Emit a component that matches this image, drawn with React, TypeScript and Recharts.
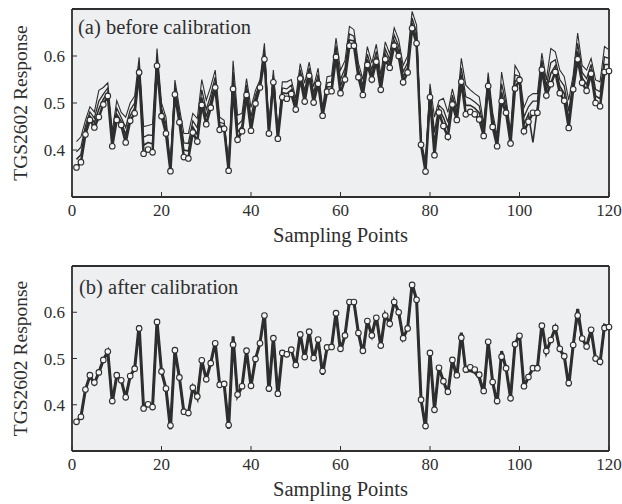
import React from 'react';
import { LineChart, Line, XAxis, YAxis, CartesianGrid } from 'recharts';

const FONT = '"Liberation Serif", "Times New Roman", serif';
const INK = '#2e2e2e';
const BG = '#eeeff1';

const samplingPoints = Array.from({ length: 120 }, (_, i) => i + 1);

// reference sensor (circles)
const referenceSensor = [
  0.363, 0.374, 0.433, 0.464, 0.448, 0.47, 0.497, 0.515, 0.408, 0.464,
  0.453, 0.416, 0.462, 0.478, 0.565, 0.392, 0.401, 0.395, 0.579, 0.472,
  0.435, 0.355, 0.518, 0.459, 0.385, 0.382, 0.437, 0.418, 0.496, 0.455,
  0.49, 0.533, 0.443, 0.445, 0.356, 0.53, 0.422, 0.44, 0.517, 0.441,
  0.499, 0.533, 0.593, 0.435, 0.544, 0.424, 0.512, 0.509, 0.519, 0.486,
  0.552, 0.503, 0.558, 0.501, 0.541, 0.473, 0.524, 0.525, 0.598, 0.521,
  0.55, 0.622, 0.622, 0.555, 0.517, 0.581, 0.55, 0.588, 0.528, 0.593,
  0.575, 0.622, 0.6, 0.544, 0.565, 0.659, 0.627, 0.411, 0.354, 0.512,
  0.389, 0.48, 0.451, 0.428, 0.497, 0.464, 0.545, 0.476, 0.481, 0.476,
  0.465, 0.43, 0.536, 0.449, 0.408, 0.504, 0.479, 0.414, 0.531, 0.549,
  0.44, 0.46, 0.479, 0.479, 0.571, 0.516, 0.54, 0.566, 0.521, 0.505,
  0.447, 0.529, 0.593, 0.543, 0.526, 0.562, 0.5, 0.493, 0.566, 0.568,
];

// other sensors before calibration
const sensor1Before = [
  0.418, 0.428, 0.463, 0.492, 0.481, 0.527, 0.533, 0.543, 0.44, 0.505,
  0.48, 0.47, 0.5, 0.515, 0.597, 0.45, 0.452, 0.455, 0.616, 0.5,
  0.47, 0.37, 0.549, 0.49, 0.435, 0.435, 0.478, 0.467, 0.55, 0.506,
  0.535, 0.57, 0.47, 0.463, 0.37, 0.59, 0.474, 0.478, 0.552, 0.49,
  0.527, 0.549, 0.627, 0.45, 0.57, 0.44, 0.545, 0.545, 0.55, 0.51,
  0.584, 0.542, 0.587, 0.535, 0.574, 0.49, 0.556, 0.558, 0.638, 0.57,
  0.59, 0.663, 0.656, 0.585, 0.55, 0.62, 0.585, 0.625, 0.56, 0.63,
  0.605, 0.66, 0.635, 0.58, 0.6, 0.695, 0.666, 0.42, 0.377, 0.541,
  0.47, 0.505, 0.51, 0.48, 0.53, 0.49, 0.595, 0.538, 0.528, 0.52,
  0.513, 0.456, 0.565, 0.48, 0.43, 0.566, 0.51, 0.44, 0.58, 0.563,
  0.49, 0.513, 0.52, 0.52, 0.606, 0.549, 0.616, 0.609, 0.57, 0.556,
  0.506, 0.56, 0.649, 0.58, 0.57, 0.595, 0.549, 0.545, 0.62, 0.613,
];

const sensor2Before = [
  0.396, 0.406, 0.451, 0.481, 0.468, 0.504, 0.519, 0.532, 0.427, 0.489,
  0.469, 0.448, 0.485, 0.5, 0.584, 0.427, 0.432, 0.431, 0.601, 0.489,
  0.456, 0.364, 0.537, 0.478, 0.415, 0.414, 0.462, 0.447, 0.528, 0.486,
  0.517, 0.555, 0.459, 0.456, 0.364, 0.566, 0.453, 0.463, 0.538, 0.47,
  0.516, 0.543, 0.613, 0.444, 0.56, 0.434, 0.532, 0.53, 0.538, 0.5,
  0.571, 0.526, 0.575, 0.521, 0.561, 0.483, 0.543, 0.545, 0.622, 0.55,
  0.574, 0.647, 0.642, 0.573, 0.537, 0.604, 0.571, 0.61, 0.547, 0.615,
  0.593, 0.645, 0.621, 0.566, 0.586, 0.681, 0.65, 0.415, 0.368, 0.529,
  0.437, 0.495, 0.486, 0.459, 0.517, 0.48, 0.575, 0.513, 0.509, 0.502,
  0.494, 0.446, 0.553, 0.468, 0.421, 0.541, 0.498, 0.43, 0.56, 0.557,
  0.47, 0.492, 0.504, 0.504, 0.592, 0.536, 0.586, 0.592, 0.55, 0.536,
  0.482, 0.548, 0.627, 0.565, 0.552, 0.582, 0.529, 0.524, 0.598, 0.595,
];

const sensor3Before = [
  0.38, 0.39, 0.442, 0.472, 0.458, 0.487, 0.508, 0.523, 0.418, 0.476,
  0.461, 0.432, 0.473, 0.489, 0.575, 0.41, 0.416, 0.413, 0.59, 0.48,
  0.446, 0.36, 0.527, 0.468, 0.4, 0.398, 0.449, 0.433, 0.512, 0.47,
  0.504, 0.544, 0.451, 0.45, 0.36, 0.548, 0.438, 0.451, 0.528, 0.456,
  0.507, 0.538, 0.603, 0.44, 0.552, 0.429, 0.522, 0.52, 0.528, 0.493,
  0.562, 0.515, 0.567, 0.511, 0.551, 0.478, 0.534, 0.535, 0.61, 0.536,
  0.562, 0.634, 0.632, 0.564, 0.527, 0.593, 0.56, 0.599, 0.538, 0.604,
  0.584, 0.633, 0.61, 0.555, 0.575, 0.67, 0.639, 0.413, 0.361, 0.521,
  0.413, 0.487, 0.469, 0.444, 0.507, 0.472, 0.56, 0.495, 0.495, 0.489,
  0.479, 0.438, 0.545, 0.458, 0.415, 0.523, 0.488, 0.422, 0.546, 0.553,
  0.455, 0.476, 0.416, 0.49, 0.581, 0.526, 0.563, 0.579, 0.536, 0.52,
  0.465, 0.538, 0.61, 0.554, 0.539, 0.572, 0.515, 0.509, 0.582, 0.582,
];

// calibrated sensors (overlapping)
const sensorsAfter = [
  0.363, 0.374, 0.433, 0.462, 0.446, 0.47, 0.497, 0.515, 0.405, 0.462,
  0.453, 0.415, 0.462, 0.478, 0.572, 0.392, 0.401, 0.395, 0.58, 0.472,
  0.435, 0.347, 0.518, 0.459, 0.384, 0.381, 0.437, 0.415, 0.496, 0.455,
  0.49, 0.535, 0.443, 0.445, 0.348, 0.548, 0.42, 0.44, 0.517, 0.44,
  0.499, 0.533, 0.598, 0.428, 0.546, 0.418, 0.512, 0.509, 0.519, 0.482,
  0.554, 0.498, 0.558, 0.496, 0.541, 0.465, 0.524, 0.525, 0.6, 0.515,
  0.55, 0.624, 0.622, 0.555, 0.51, 0.581, 0.55, 0.592, 0.526, 0.595,
  0.575, 0.624, 0.6, 0.544, 0.565, 0.662, 0.627, 0.411, 0.35, 0.512,
  0.389, 0.48, 0.451, 0.425, 0.497, 0.46, 0.556, 0.472, 0.474, 0.47,
  0.458, 0.425, 0.536, 0.449, 0.402, 0.516, 0.479, 0.414, 0.531, 0.553,
  0.438, 0.46, 0.479, 0.479, 0.575, 0.514, 0.54, 0.566, 0.519, 0.505,
  0.44, 0.529, 0.607, 0.543, 0.526, 0.562, 0.498, 0.49, 0.572, 0.568,
];

const xTicks = [0, 20, 40, 60, 80, 100, 120];
const yTicks = [0.4, 0.5, 0.6];

const rows = samplingPoints.map((x, i) => ({
  x,
  ref: referenceSensor[i],
  s1: sensor1Before[i],
  s2: sensor2Before[i],
  s3: sensor3Before[i],
  after: sensorsAfter[i],
}));

const axisLineStyle = { stroke: INK, strokeWidth: 1.8 };
const tickLineStyle = { stroke: INK, strokeWidth: 1 };
const tickText = { fill: INK, fontSize: 17, fontFamily: FONT };

const yLabel = (p: any) => {
  const vb = p.viewBox || { x: 0, y: 0, width: 72, height: 188 };
  const cx = vb.x + 27;
  const cy = vb.y + vb.height / 2;
  return (
    <text
      x={cx}
      y={cy}
      transform={`rotate(-90 ${cx} ${cy})`}
      textAnchor="middle"
      fill={INK}
      fontSize={19.5}
      fontFamily={FONT}
    >
      TGS2602 Response
    </text>
  );
};

function Panel({
  top,
  height,
  marginTop,
  title,
  titleTop,
  titleLeft,
  before,
}: {
  top: number;
  height: number;
  marginTop: number;
  title: string;
  titleTop: number;
  titleLeft: number;
  before: boolean;
}) {
  return (
    <div style={{ position: 'absolute', left: 0, top, width: 622, height }}>
      <LineChart
        width={622}
        height={height}
        data={rows}
        margin={{ top: marginTop - 1, right: 12, bottom: 3, left: 0 }}
      >
        <CartesianGrid xAxisId="b" yAxisId="l" fill={BG} stroke="none" horizontal={false} vertical={false} />
        <XAxis
          xAxisId="b"
          dataKey="x"
          type="number"
          domain={[0, 120]}
          ticks={xTicks}
          height={50}
          tickSize={-5}
          tickMargin={12}
          axisLine={axisLineStyle}
          tickLine={tickLineStyle}
          tick={tickText}
          interval={0}
          label={{ value: 'Sampling Points', position: 'insideBottom', offset: 5, fill: INK, fontSize: 20.5, fontFamily: FONT }}
        />
        <XAxis
          xAxisId="t"
          orientation="top"
          dataKey="x"
          type="number"
          domain={[0, 120]}
          ticks={xTicks}
          height={1}
          tickSize={-5}
          axisLine={axisLineStyle}
          tickLine={tickLineStyle}
          tick={false}
          interval={0}
        />
        <YAxis
          yAxisId="l"
          type="number"
          domain={[0.3, 0.7]}
          ticks={yTicks}
          width={72}
          tickSize={-5}
          tickMargin={12}
          axisLine={axisLineStyle}
          tickLine={tickLineStyle}
          tick={tickText}
          interval={0}
          tickFormatter={(v: number) => v.toFixed(1)}
          label={{ content: yLabel }}
        />
        <YAxis
          yAxisId="r"
          orientation="right"
          type="number"
          domain={[0.3, 0.7]}
          ticks={yTicks}
          width={1}
          tickSize={-5}
          axisLine={axisLineStyle}
          tickLine={tickLineStyle}
          tick={false}
          interval={0}
        />
        {before && (
          <Line xAxisId="b" yAxisId="l" dataKey="s1" stroke={INK} strokeWidth={1.1} dot={false} isAnimationActive={false} />
        )}
        {before && (
          <Line xAxisId="b" yAxisId="l" dataKey="s2" stroke={INK} strokeWidth={1.3} dot={false} isAnimationActive={false} />
        )}
        {before && (
          <Line xAxisId="b" yAxisId="l" dataKey="s3" stroke={INK} strokeWidth={1.6} dot={false} isAnimationActive={false} />
        )}
        {!before && (
          <Line xAxisId="b" yAxisId="l" dataKey="after" stroke={INK} strokeWidth={3} dot={false} isAnimationActive={false} />
        )}
        <Line
          xAxisId="b"
          yAxisId="l"
          dataKey="ref"
          stroke={INK}
          strokeWidth={before ? 2.5 : 1.8}
          dot={{ r: 2.8, fill: '#f6f6f6', stroke: INK, strokeWidth: 1.1 }}
          isAnimationActive={false}
        />
      </LineChart>
      <div
        style={{
          position: 'absolute',
          left: titleLeft,
          top: titleTop,
          fontFamily: FONT,
          fontSize: 20.5,
          lineHeight: '20px',
          color: INK,
          whiteSpace: 'nowrap',
        }}
      >
        {title}
      </div>
    </div>
  );
}

export default function App() {
  return (
    <div style={{ position: 'absolute', left: 0, top: 0, width: 622, height: 504, background: '#ffffff' }}>
      <Panel top={0} height={250} marginTop={9} title="(a) before calibration" titleTop={17} titleLeft={78} before={true} />
      <Panel top={250} height={254} marginTop={16} title="(b) after calibration" titleTop={27} titleLeft={79} before={false} />
    </div>
  );
}
